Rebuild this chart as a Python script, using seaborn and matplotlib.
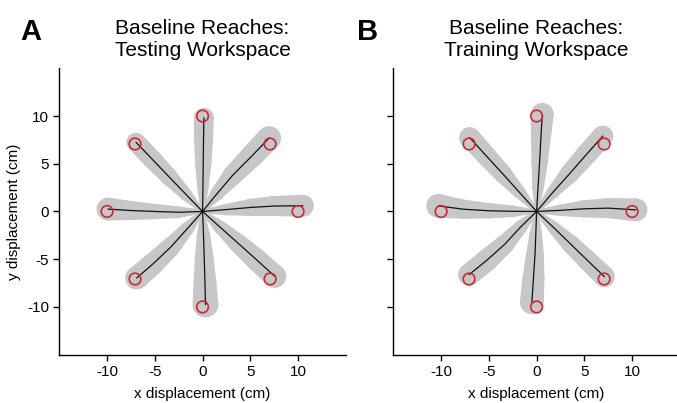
import numpy as np
import pandas as pd
import matplotlib
matplotlib.use("Agg")
import matplotlib.pyplot as plt
from matplotlib.patches import Polygon, Circle
import seaborn as sns

# ---------------- data ----------------
directions = [0, 45, 90, 135, 180, 225, 270, 315]
target_x = [10, 7.07, 0, -7.07, -10, -7.07, 0, 7.07]
target_y = [0, 7.07, 10, 7.07, 0, -7.07, -10, -7.07]
tick_values = [-10, -5, 0, 5, 10]
tick_labels = ["-10", "-5", "0", "5", "10"]

# Panel A: testing workspace mean paths (cm) and band half-width (cm)
testing_x = [
    [0, 2.5, 5.0, 7.5, 10.5],
    [0, 1.5, 3.2, 5.2, 6.97],
    [0, 0.04, 0.07, 0.10, 0.14],
    [0, -1.75, -3.5, -5.25, -6.97],
    [0, -2.5, -5.0, -7.5, -9.9],
    [0, -1.6, -3.3, -5.2, -6.9],
    [0, 0.10, 0.18, 0.25, 0.31],
    [0, 1.9, 3.8, 5.7, 7.57],
]
testing_y = [
    [0, 0.20, 0.42, 0.57, 0.60],
    [0, 1.85, 3.84, 5.85, 7.69],
    [0, 2.5, 5.0, 7.5, 9.8],
    [0, 1.8, 3.62, 5.45, 7.25],
    [0, -0.08, 0.0, 0.10, 0.25],
    [0, -1.8, -3.7, -5.5, -6.97],
    [0, -2.5, -5.0, -7.5, -9.75],
    [0, -1.7, -3.4, -5.1, -6.8],
]
testing_sd = [
    [0.2, 0.60, 0.90, 1.05, 1.15],
    [0.2, 0.70, 1.05, 1.20, 1.25],
    [0.2, 0.60, 0.85, 1.00, 1.05],
    [0.2, 0.65, 0.90, 1.00, 1.00],
    [0.2, 0.60, 0.80, 1.00, 1.20],
    [0.2, 0.70, 1.00, 1.15, 1.20],
    [0.2, 0.70, 1.00, 1.20, 1.35],
    [0.2, 0.70, 1.00, 1.15, 1.20],
]

# Panel B: training workspace
training_x = [
    [0, 2.5, 5.0, 7.5, 10.4],
    [0, 1.7, 3.45, 5.2, 6.93],
    [0, 0.15, 0.31, 0.50, 0.60],
    [0, -1.75, -3.5, -5.25, -7.0],
    [0, -2.5, -4.9, -7.7, -10.3],
    [0, -1.65, -3.35, -5.2, -7.07],
    [0, -0.08, -0.17, -0.33, -0.49],
    [0, 1.8, 3.55, 5.3, 7.1],
]
training_y = [
    [0, 0.12, 0.28, 0.35, 0.17],
    [0, 2.0, 3.95, 5.95, 7.9],
    [0, 2.5, 5.1, 8.6, 10.17],
    [0, 1.95, 3.9, 5.8, 7.74],
    [0, 0.02, 0.07, 0.24, 0.59],
    [0, -1.6, -3.45, -5.1, -6.62],
    [0, -2.3, -4.6, -7.0, -9.5],
    [0, -1.7, -3.4, -5.1, -6.83],
]
training_sd = [
    [0.2, 0.60, 0.90, 1.05, 1.20],
    [0.2, 0.65, 1.00, 1.10, 1.10],
    [0.2, 0.60, 0.85, 1.10, 1.20],
    [0.2, 0.65, 0.95, 1.05, 1.10],
    [0.2, 0.60, 0.80, 1.00, 1.25],
    [0.2, 0.70, 1.00, 1.15, 1.15],
    [0.2, 0.65, 0.95, 1.15, 1.25],
    [0.2, 0.65, 0.95, 1.05, 1.10],
]

# ---------------- style ----------------
sns.set_style("ticks")
plt.rcParams["font.family"] = ["Liberation Sans", "DejaVu Sans"]
plt.rcParams["axes.unicode_minus"] = False
plt.rcParams["axes.linewidth"] = 1.0
plt.rcParams["xtick.major.size"] = 4
plt.rcParams["ytick.major.size"] = 4
plt.rcParams["xtick.major.width"] = 1.0
plt.rcParams["ytick.major.width"] = 1.0
plt.rcParams["xtick.color"] = "black"
plt.rcParams["ytick.color"] = "black"
plt.rcParams["xtick.labelcolor"] = "black"
plt.rcParams["ytick.labelcolor"] = "black"
plt.rcParams["axes.labelcolor"] = "black"
plt.rcParams["text.color"] = "black"
plt.rcParams["axes.edgecolor"] = "black"

BAND = "#c6c7c9"
RED = "#d7262b"

fig = plt.figure(figsize=(6.77, 4.03), dpi=100)
axA = fig.add_axes([0.0876, 0.1199, 0.4232, 0.7107])
axB = fig.add_axes([0.581, 0.1199, 0.4232, 0.7107])


def draw_band(ax, xs, ys, rs):
    xs = np.asarray(xs, float)
    ys = np.asarray(ys, float)
    rs = np.asarray(rs, float)
    for i in range(len(xs) - 1):
        dx, dy = xs[i + 1] - xs[i], ys[i + 1] - ys[i]
        L = np.hypot(dx, dy)
        nx, ny = -dy / L, dx / L
        poly = [
            (xs[i] + nx * rs[i], ys[i] + ny * rs[i]),
            (xs[i + 1] + nx * rs[i + 1], ys[i + 1] + ny * rs[i + 1]),
            (xs[i + 1] - nx * rs[i + 1], ys[i + 1] - ny * rs[i + 1]),
            (xs[i] - nx * rs[i], ys[i] - ny * rs[i]),
        ]
        ax.add_patch(Polygon(poly, closed=True, facecolor=BAND, edgecolor="none", zorder=1))
    for x, y, r in zip(xs, ys, rs):
        ax.add_patch(Circle((x, y), r, facecolor=BAND, edgecolor="none", zorder=1))


def draw_panel(ax, px, py, psd, title, show_y):
    rows = []
    for d, xs, ys in zip(directions, px, py):
        for k, (x, y) in enumerate(zip(xs, ys)):
            rows.append({"dir": d, "k": k, "x": x, "y": y})
    df = pd.DataFrame(rows)
    for xs, ys, rs in zip(px, py, psd):
        draw_band(ax, xs, ys, rs)
    sns.lineplot(data=df, x="x", y="y", units="dir", estimator=None, sort=False,
                 color="#111111", linewidth=0.9, ax=ax, zorder=3, legend=False)
    tdf = pd.DataFrame({"x": target_x, "y": target_y})
    ax.scatter(tdf["x"], tdf["y"], s=70, marker="o", facecolors="none",
               edgecolors=RED, linewidths=1.2, zorder=4)
    ax.set_xlim(-15, 15)
    ax.set_ylim(-15, 15)
    ax.set_xticks(tick_values)
    ax.set_xticklabels(tick_labels, fontsize=11)
    ax.set_yticks(tick_values)
    if show_y:
        ax.set_yticklabels(tick_labels, fontsize=11)
        ax.set_ylabel("y displacement (cm)", fontsize=11, labelpad=4)
    else:
        ax.set_yticklabels([])
        ax.set_ylabel("")
    ax.set_xlabel("x displacement (cm)", fontsize=11, labelpad=6)
    ax.set_title(title, fontsize=15, pad=9, linespacing=1.2, color="black")
    sns.despine(ax=ax)


draw_panel(axA, testing_x, testing_y, testing_sd,
           "Baseline Reaches:\nTesting Workspace", True)
draw_panel(axB, training_x, training_y, training_sd,
           "Baseline Reaches:\nTraining Workspace", False)

fig.text(20 / 677, 1 - 40 / 403, "A", fontsize=21, fontweight="bold", va="baseline")
fig.text(357 / 677, 1 - 40 / 403, "B", fontsize=21, fontweight="bold", va="baseline")

fig.savefig("out.png", dpi=100)
